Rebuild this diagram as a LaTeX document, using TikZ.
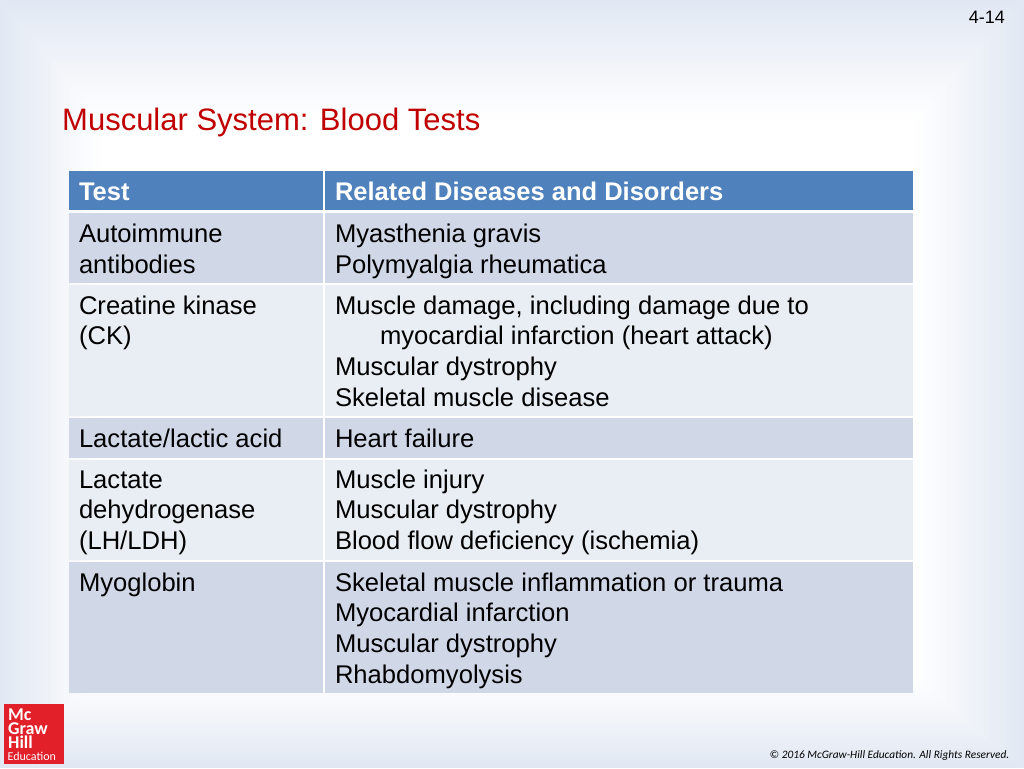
\documentclass[tikz,border=0pt]{standalone}
\usepackage{fontspec}
\setmainfont{Liberation Sans}
\newfontfamily\calfont{Carlito}
\definecolor{hdr}{HTML}{4F81BD}
\definecolor{rowa}{HTML}{D0D8E8}
\definecolor{rowb}{HTML}{E9EDF4}
\definecolor{titlered}{HTML}{C00000}
\definecolor{logored}{HTML}{E1202A}
\definecolor{bgout}{HTML}{E1E8F3}
\newcommand{\mystrut}{\rule{0pt}{20pt}}
\tikzset{
  cellbox/.style={anchor=north west,inner sep=0pt,outer sep=0pt,draw=none},
  celltext/.style={anchor=north west,inner sep=0pt,outer sep=0pt,align=left,text=black,font=\fontsize{25.6}{30.7}\selectfont},
  headtext/.style={celltext,text=white,font=\fontsize{25.5}{30.7}\selectfont\bfseries},
  logotext/.style={anchor=north west,inner sep=0pt,align=left,text=white,font=\calfont\fontsize{18}{14}\selectfont\bfseries},
}
\begin{document}
\begin{tikzpicture}[x=1pt,y=-1pt]
\useasboundingbox (0,0) rectangle (1024,768);
\fill[bgout] (0,0) rectangle (1024,768);
\foreach \ii in {0,...,50}{
  \pgfmathsetmacro{\bgf}{\ii*2}
  \pgfmathsetmacro{\bgl}{\ii*2.0}
  \pgfmathsetmacro{\bgt}{\ii*2.4}
  \pgfmathsetmacro{\bgr}{1024-\ii*2.2}
  \pgfmathsetmacro{\bgb}{768-\ii*1.8}
  \fill[white!\bgf!bgout] (\bgl,\bgt) rectangle (\bgr,\bgb);
}
% table cells
\foreach \nm/\xa/\xb/\ya/\yb/\cc in {
  ca/69/323/171/210/hdr, cb/325/913/171/210/hdr,
  cc/69/323/213/283/rowa, cd/325/913/213/283/rowa,
  ce/69/323/285/416/rowb, cf/325/913/285/416/rowb,
  cg/69/323/418/458/rowa, ch/325/913/418/458/rowa,
  ci/69/323/460/560/rowb, cj/325/913/460/560/rowb,
  ck/69/323/562/693/rowa, cl/325/913/562/693/rowa}{
  \pgfmathsetmacro{\cellw}{\xb-\xa}
  \pgfmathsetmacro{\cellh}{\yb-\ya}
  \node[cellbox,fill=\cc,minimum width=\cellw pt,minimum height=\cellh pt] (\nm) at (\xa,\ya) {};
}
\node[anchor=base west,inner sep=0pt,text=titlered,font=\fontsize{31}{36}\selectfont] (title) at (62,130) {Muscular System: Blood Tests};
\node[anchor=base east,inner sep=0pt,font=\fontsize{18}{20}\selectfont] (pageno) at (1005,24) {4-14};
\node[headtext] (ta) at (79,180) {\mystrut Test};
\node[headtext] (tb) at (335,180) {\mystrut Related Diseases and Disorders};
\node[celltext] (tc) at (79,222.4) {\mystrut Autoimmune\\\mystrut antibodies};
\node[celltext] (td) at (335,222.4) {\mystrut Myasthenia gravis\\\mystrut Polymyalgia rheumatica};
\node[celltext] (te) at (79,294) {\mystrut Creatine kinase\\\mystrut (CK)};
\node[celltext] (tf) at (335,294) {\mystrut Muscle damage, including damage due to\\\mystrut\hspace*{45pt}myocardial infarction (heart attack)\\\mystrut Muscular dystrophy\\\mystrut Skeletal muscle disease};
\node[celltext] (tg) at (79,427) {\mystrut Lactate/lactic acid};
\node[celltext] (th) at (335,427) {\mystrut Heart failure};
\node[celltext] (ti) at (79,468) {\mystrut Lactate\\\mystrut dehydrogenase\\\mystrut (LH/LDH)};
\node[celltext] (tj) at (335,468) {\mystrut Muscle injury\\\mystrut Muscular dystrophy\\\mystrut Blood flow deficiency (ischemia)};
\node[celltext] (tk) at (79,571) {\mystrut Myoglobin};
\node[celltext] (tl) at (335,571) {\mystrut Skeletal muscle inflammation or trauma\\\mystrut Myocardial infarction\\\mystrut Muscular dystrophy\\\mystrut Rhabdomyolysis};
% logo
\node[cellbox,fill=logored,minimum width=60pt,minimum height=60pt] (logo) at (4,704) {};
\node[logotext] (logoname) at (8,708) {\rule{0pt}{12pt}Mc\\Graw\\Hill};
\node[anchor=base west,inner sep=0pt,text=white,font=\calfont\fontsize{12}{14}\selectfont] (logoedu) at (7.5,760.5) {Education};
\node[anchor=base east,inner sep=0pt,font=\calfont\fontsize{11.35}{14}\selectfont\itshape] (copy) at (1009.5,758.5) {© 2016 McGraw-Hill Education. All Rights Reserved.};
\end{tikzpicture}
\end{document}
